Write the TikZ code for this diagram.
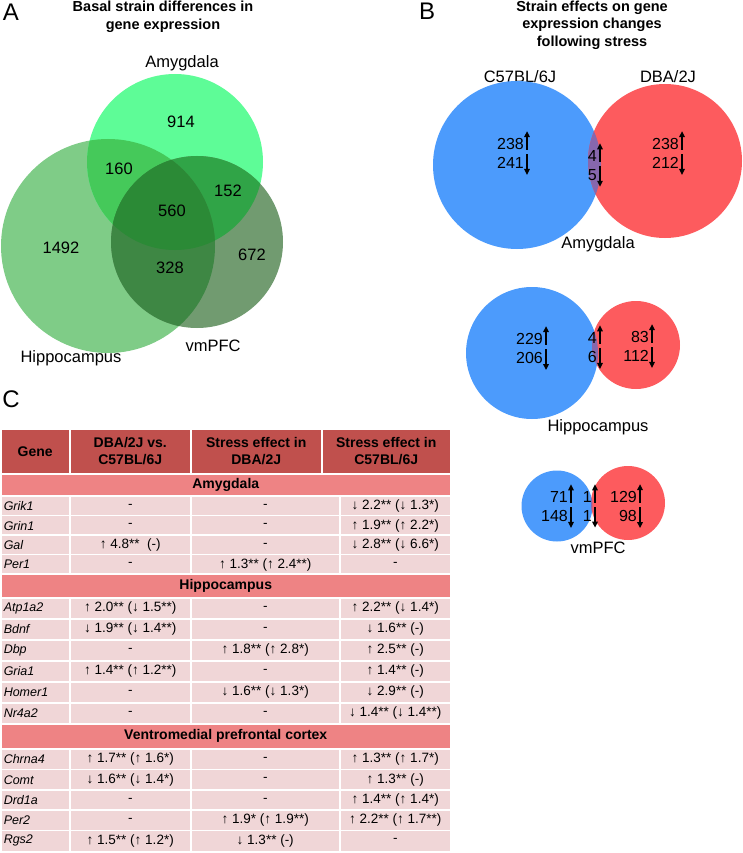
\documentclass[tikz,border=0pt]{standalone}
\usepackage{fontspec}
\setmainfont{Liberation Sans}
\usepackage{tikz}
\usetikzlibrary{arrows.meta,positioning}
\definecolor{amygreen}{HTML}{5EFC97}
\definecolor{hipgreen}{HTML}{7FCC87}
\definecolor{pfcgreen}{HTML}{719B70}
\definecolor{amyhip}{HTML}{45C95A}
\definecolor{amypfc}{HTML}{30A447}
\definecolor{hippfc}{HTML}{3E8744}
\definecolor{allgreen}{HTML}{2B8A36}
\definecolor{bblue}{HTML}{4C9BFC}
\definecolor{dred}{HTML}{FD5B5E}
\definecolor{bothpurple}{HTML}{8767AD}
\definecolor{headred}{HTML}{C0504D}
\definecolor{bandred}{HTML}{EE8384}
\definecolor{rowpink}{HTML}{F0D6D7}
\tikzset{
  panel/.style={font=\fontsize{24}{24}\selectfont,inner sep=0pt},
  title/.style={align=center,font=\fontsize{14.5}{17.5}\selectfont\bfseries},
  setlabel/.style={font=\fontsize{16.5}{19}\selectfont},
  count/.style={font=\fontsize{16.5}{19}\selectfont},
  dirnum/.style={font=\fontsize{16}{19}\selectfont,inner sep=0pt,anchor=east},
  dirarrow/.style={-{Triangle[length=6pt,width=5.5pt]},line width=1.4pt},
  cellbase/.style={rectangle,draw=white,line width=1.5pt,anchor=north west,inner sep=0pt},
  headcell/.style={cellbase,fill=headred,minimum height=45pt,align=center,font=\fontsize{14}{16.5}\selectfont\bfseries},
  bandcell/.style={cellbase,fill=bandred,minimum width=450pt,minimum height=24pt,font=\fontsize{14}{16}\selectfont\bfseries},
  cell/.style={cellbase,fill=rowpink,minimum height=21pt,font=\fontsize{13.5}{15}\selectfont},
  genecell/.style={cell,text width=63pt,inner xsep=3pt,align=left,minimum width=69pt,font=\fontsize{12.5}{15}\selectfont}
}
% one table row: id, top, gene, three values
\newcommand{\generow}[6]{%
  \node[genecell] (#1g) at (0,#2) {\textit{#3}};
  \node[cell,minimum width=121pt] (#1a) at (69,#2) {#4};
  \node[cell,minimum width=149pt] (#1b) at (190,#2) {#5};
  \node[cell,minimum width=111pt] (#1c) at (339,#2) {#6};
}
% up / down counts with their arrows
\newcommand{\dirpair}[4]{%
  \node[dirnum] (#1u) at #2 {#3};
  \node[dirnum,below=7.5pt of #1u.south east,anchor=north east] (#1d) {#4};
  \draw[dirarrow] ([xshift=3pt]#1u.south east) -- ([xshift=3pt,yshift=7pt]#1u.north east);
  \draw[dirarrow] ([xshift=3pt,yshift=3pt]#1d.north east) -- ([xshift=3pt,yshift=-6pt]#1d.south east);
}
\begin{document}
\begin{tikzpicture}[x=1pt,y=-1pt]
  \useasboundingbox (0,0) rectangle (742,853);

  % A: basal strain differences
  \node[panel] (la) at (11,12) {A};
  \node[title] (ta) at (163,17) {Basal strain differences in\\gene expression};
  \coordinate (amyc) at (175,162);
  \coordinate (hipc) at (108,246);
  \coordinate (pfcc) at (197,242);
  \fill[hipgreen] (hipc) circle[radius=107pt];
  \fill[amygreen] (amyc) circle[radius=88pt];
  \fill[pfcgreen] (pfcc) circle[radius=86pt];
  \begin{scope}
    \clip (amyc) circle[radius=88pt];
    \fill[amyhip] (hipc) circle[radius=107pt];
    \fill[amypfc] (pfcc) circle[radius=86pt];
  \end{scope}
  \begin{scope}
    \clip (hipc) circle[radius=107pt];
    \fill[hippfc] (pfcc) circle[radius=86pt];
  \end{scope}
  \begin{scope}
    \clip (hipc) circle[radius=107pt];
    \clip (amyc) circle[radius=88pt];
    \fill[allgreen] (pfcc) circle[radius=86pt];
  \end{scope}
  \node[setlabel] (amyname) at (182,63) {Amygdala};
  \node[setlabel] (hipname) at (71,358) {Hippocampus};
  \node[setlabel] (pfcname) at (213,346) {vmPFC};
  \node[count] (amyonly) at (181,122) {914};
  \node[count] (amyhipn) at (119,169) {160};
  \node[count] (amypfcn) at (228,191) {152};
  \node[count] (alln) at (172,211) {560};
  \node[count] (hiponly) at (61,248) {1492};
  \node[count] (pfconly) at (252,255) {672};
  \node[count] (hippfcn) at (170,268) {328};

  % B: stress effects per strain
  \node[panel,anchor=west] (lb) at (419,11) {B};
  \node[title] (tb) at (592,25) {Strain effects on gene\\expression changes\\following stress};
  \node[setlabel] (bname) at (520,77) {C57BL/6J};
  \node[setlabel] (dname) at (668,77) {DBA/2J};
  % amygdala
  \fill[bblue] (517,165) circle[radius=84pt];
  \fill[dred] (665,161) circle[radius=77pt];
  \begin{scope}
    \clip (517,165) circle[radius=84pt];
    \fill[bothpurple] (665,161) circle[radius=77pt];
  \end{scope}
  \dirpair{ab}{(524,144)}{238}{241}
  \dirpair{am}{(597,156)}{4}{5}
  \dirpair{ad}{(679,144)}{238}{212}
  \node[setlabel] (bamy) at (598,244) {Amygdala};
  % hippocampus
  \fill[bblue] (532,353) circle[radius=66pt];
  \fill[dred] (636,345) circle[radius=44pt];
  \begin{scope}
    \clip (532,353) circle[radius=66pt];
    \fill[bothpurple] (636,345) circle[radius=44pt];
  \end{scope}
  \dirpair{hb}{(543,339)}{229}{206}
  \dirpair{hm}{(597,338)}{4}{6}
  \dirpair{hd}{(649,337)}{83}{112}
  \node[setlabel] (bhip) at (598,427) {Hippocampus};
  % vmPFC
  \fill[bblue] (557,506) circle[radius=35.5pt];
  \fill[dred] (628,503) circle[radius=37pt];
  \begin{scope}
    \clip (557,506) circle[radius=35.5pt];
    \fill[bothpurple] (628,503) circle[radius=37pt];
  \end{scope}
  \dirpair{vb}{(568,497)}{71}{148}
  \dirpair{vm}{(592,497)}{1}{1}
  \dirpair{vd}{(637,497)}{129}{98}
  \node[setlabel] (bpfc) at (598,548) {vmPFC};

  % C: gene table
  \node[panel] (lc) at (11,399) {C};
  \node[headcell,minimum width=69pt] (hgene) at (0,428) {Gene};
  \node[headcell,minimum width=121pt] (hvs) at (69,428) {DBA/2J vs.\\C57BL/6J};
  \node[headcell,minimum width=131pt] (hdba) at (190,428) {Stress effect in\\DBA/2J};
  \node[headcell,minimum width=129pt] (hb6) at (321,428) {Stress effect in\\C57BL/6J};
  \node[bandcell,minimum height=22pt] (amyband) at (0,473) {Amygdala};
  \generow{grik}{495}{Grik1}{-}{-}{↓ 2.2** (↓ 1.3*)}
  \generow{grin}{514.5}{Grin1}{-}{-}{↑ 1.9** (↑ 2.2*)}
  \generow{gal}{534}{Gal}{↑ 4.8**\ \ (-)}{-}{↓ 2.8** (↓ 6.6*)}
  \generow{perone}{553.5}{Per1}{-}{↑ 1.3** (↑ 2.4**)}{-}
  \node[bandcell] (hipband) at (0,573) {Hippocampus};
  \generow{atp}{597}{Atp1a2}{↑ 2.0** (↓ 1.5**)}{-}{↑ 2.2** (↓ 1.4*)}
  \generow{bdnf}{618}{Bdnf}{↓ 1.9** (↓ 1.4**)}{-}{↓ 1.6** (-)}
  \generow{dbp}{639}{Dbp}{-}{↑ 1.8** (↑ 2.8*)}{↑ 2.5** (-)}
  \generow{gria}{660}{Gria1}{↑ 1.4** (↑ 1.2**)}{-}{↑ 1.4** (-)}
  \generow{homer}{681}{Homer1}{-}{↓ 1.6** (↓ 1.3*)}{↓ 2.9** (-)}
  \generow{nr}{702}{Nr4a2}{-}{-}{↓ 1.4** (↓ 1.4**)}
  \node[bandcell,minimum height=25pt] (pfcband) at (0,723) {Ventromedial prefrontal cortex};
  \generow{chrna}{748}{Chrna4}{↑ 1.7** (↑ 1.6*)}{-}{↑ 1.3** (↑ 1.7*)}
  \generow{comt}{768.5}{Comt}{↓ 1.6** (↓ 1.4*)}{-}{↑ 1.3** (-)}
  \generow{drd}{789}{Drd1a}{-}{-}{↑ 1.4** (↑ 1.4*)}
  \generow{pertwo}{809}{Per2}{-}{↑ 1.9* (↑ 1.9**)}{↑ 2.2** (↑ 1.7**)}
  \generow{rgs}{829.5}{Rgs2}{↑ 1.5** (↑ 1.2*)}{↓ 1.3** (-)}{-}
\end{tikzpicture}
\end{document}
